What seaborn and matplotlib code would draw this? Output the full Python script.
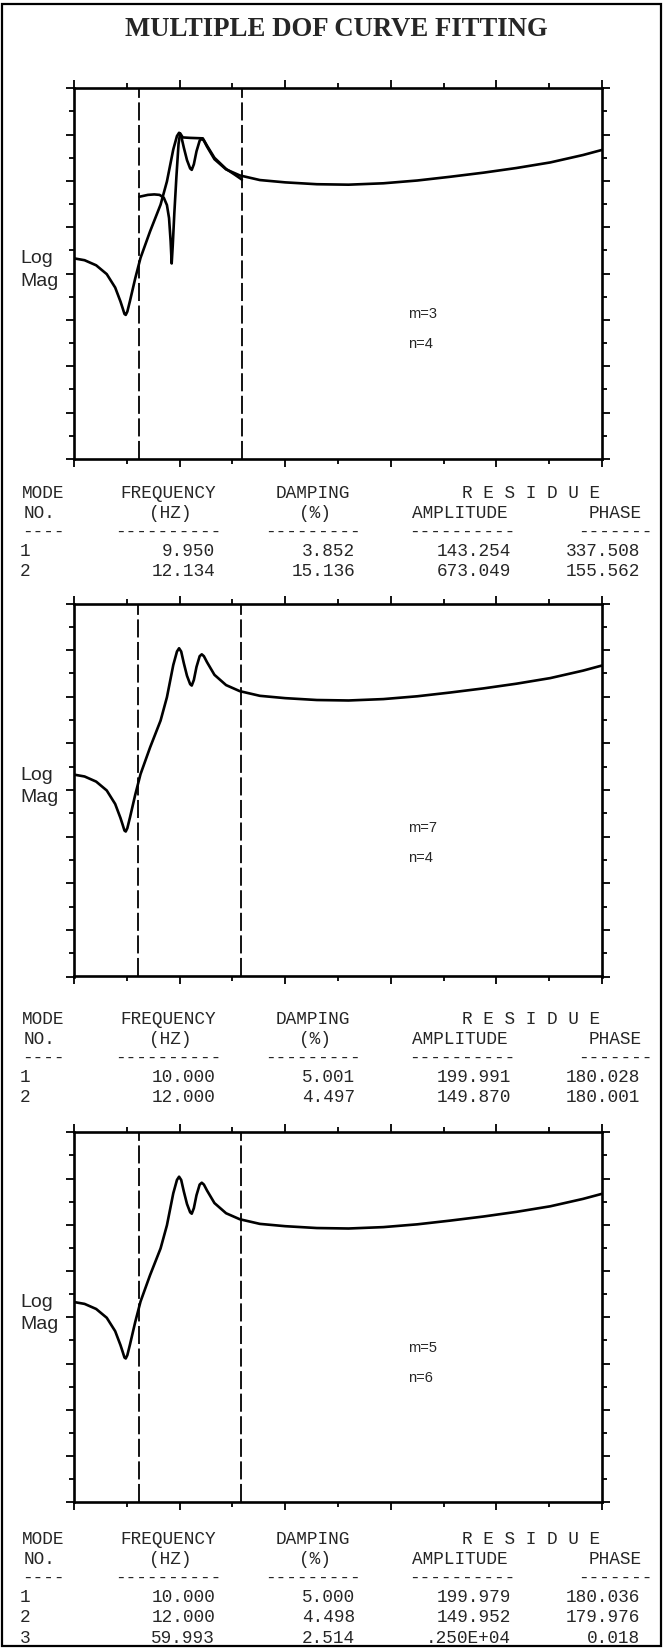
import numpy as np
import pandas as pd
import matplotlib
matplotlib.use("Agg")
import matplotlib.pyplot as plt
from matplotlib.patches import Rectangle
from matplotlib.ticker import MultipleLocator
import seaborn as sns

# ---------------------------------------------------------------
# data (frequency in Hz, log magnitude)
# ---------------------------------------------------------------
meas_hz = [0.0, 1.0, 2.1, 3.1, 3.9, 4.4, 4.6, 4.78, 4.9, 5.05, 5.3, 5.8, 6.3,
           7.2, 8.2, 8.8, 9.4, 9.75, 9.95, 10.15, 10.4, 10.7, 11.0, 11.15,
           11.35, 11.6, 11.9, 12.1, 12.3, 12.6, 13.3, 14.4, 15.7, 17.6, 20.0,
           23.0, 26.0, 29.3, 32.5, 35.6, 38.8, 41.9, 45.1, 48.2, 50.0]
meas_mag = [0.33, 0.29, 0.18, -0.01, -0.30, -0.60, -0.74, -0.87, -0.89, -0.82,
            -0.59, -0.10, 0.34, 0.91, 1.49, 1.99, 2.68, 2.97, 3.04, 2.97, 2.72,
            2.45, 2.27, 2.24, 2.36, 2.64, 2.87, 2.91, 2.87, 2.74, 2.47, 2.25,
            2.12, 2.02, 1.97, 1.93, 1.92, 1.95, 2.01, 2.09, 2.18, 2.28, 2.40,
            2.56, 2.67]

# first (poor) fit, m=3 n=4
fit1_hz = [6.2, 7.0, 7.6, 8.1, 8.5, 8.8, 9.0, 9.15, 9.25, 9.35, 9.5, 9.7, 9.9,
           10.05, 10.3, 11.0, 12.2, 12.6, 13.3, 14.4, 15.2, 15.9]
fit1_mag = [1.66, 1.70, 1.71, 1.70, 1.64, 1.48, 1.20, 0.70, 0.22, 0.60, 1.30,
            2.10, 2.80, 3.03, 2.94, 2.93, 2.92, 2.76, 2.50, 2.26, 2.14, 2.03]

band_lo = [6.2, 6.1, 6.15]
band_hi = [15.9, 15.8, 15.85]
m_vals = [3, 7, 5]
n_vals = [4, 4, 6]

modes = [["1", "2"], ["1", "2"], ["1", "2", "3"]]
freq = [["9.950", "12.134"], ["10.000", "12.000"], ["10.000", "12.000", "59.993"]]
damp = [["3.852", "15.136"], ["5.001", "4.497"], ["5.000", "4.498", "2.514"]]
amp = [["143.254", "673.049"], ["199.991", "149.870"],
       ["199.979", "149.952", ".250E+04"]]
phase = [["337.508", "155.562"], ["180.028", "180.001"],
         ["180.036", "179.976", "0.018"]]

W, H = 663, 1648
sns.set_theme(style="white")
plt.rcParams["font.family"] = ["Liberation Sans", "DejaVu Sans"]

fig = plt.figure(figsize=(W / 100, H / 100), dpi=100)
fig.patch.set_facecolor("white")

def fx(px):
    return px / W

def fy(py):
    return 1 - py / H

# outer frame
fig.patches.append(Rectangle((fx(2), fy(1646)), fx(659), 1642 / H,
                             transform=fig.transFigure, fill=False,
                             edgecolor="black", lw=1.6))

fig.text(fx(336), fy(29), "MULTIPLE DOF CURVE FITTING", ha="center", va="center",
         fontsize=19.3, fontweight="bold", family="Liberation Serif")

panel_top = [88.3, 603.5, 1132.3]
panel_bot = [459.0, 976.5, 1502.3]
table_y0 = [493, 1019, 1539]
AX_L, AX_R = 74, 602
mono = "Liberation Mono"

for i in range(3):
    ax = fig.add_axes([fx(AX_L), fy(panel_bot[i]), fx(AX_R - AX_L),
                       (panel_bot[i] - panel_top[i]) / H])
    df = pd.DataFrame({"hz": meas_hz, "mag": meas_mag})
    sns.lineplot(data=df, x="hz", y="mag", ax=ax, color="black", lw=1.9,
                 sort=False, estimator=None)
    if i == 0:
        dfit = pd.DataFrame({"hz": fit1_hz, "mag": fit1_mag})
        sns.lineplot(data=dfit, x="hz", y="mag", ax=ax, color="black", lw=1.9,
                     sort=False, estimator=None)
    for b in (band_lo[i], band_hi[i]):
        ax.axvline(b, color="black", lw=1.3, dashes=(10, 2.5))
    ax.set_xlim(0, 50)
    ax.set_ylim(-4, 4)
    ax.xaxis.set_major_locator(MultipleLocator(10))
    ax.xaxis.set_minor_locator(MultipleLocator(5))
    ax.yaxis.set_major_locator(MultipleLocator(1))
    ax.yaxis.set_minor_locator(MultipleLocator(0.5))
    ax.tick_params(which="both", direction="out", top=True, bottom=True,
                   left=True, right=True, labelbottom=False, labelleft=False,
                   color="black", width=1.3)
    ax.tick_params(which="major", length=6)
    ax.tick_params(which="minor", length=3.5)
    ax.set_xlabel("")
    ax.set_ylabel("")
    for s in ax.spines.values():
        s.set_color("black")
        s.set_linewidth(1.9)
    ax.text(-0.102, 0.51, "Log\nMag", transform=ax.transAxes, ha="left",
            va="center", fontsize=14, linespacing=1.4)
    my = [0.391, 0.398, 0.417][i]
    ax.text(0.633, my, f"m={m_vals[i]}", transform=ax.transAxes, ha="left",
            va="center", fontsize=10.5)
    ax.text(0.633, my - 0.08, f"n={n_vals[i]}", transform=ax.transAxes,
            ha="left", va="center", fontsize=10.5)

    # mode table below the panel
    y0 = table_y0[i]
    tk = dict(family=mono, fontsize=12.8, va="baseline", ha="center")
    b = 5
    fig.text(fx(43), fy(y0 + b), "MODE", **tk)
    fig.text(fx(40), fy(y0 + 20 + b), "NO.", **tk)
    fig.text(fx(43), fy(y0 + 39 + b), "----", **tk)
    fig.text(fx(168), fy(y0 + b), "FREQUENCY", **tk)
    fig.text(fx(170), fy(y0 + 20 + b), "(HZ)", **tk)
    fig.text(fx(168), fy(y0 + 39 + b), "----------", **tk)
    fig.text(fx(313), fy(y0 + b), "DAMPING", **tk)
    fig.text(fx(315), fy(y0 + 20 + b), "(%)", **tk)
    fig.text(fx(313), fy(y0 + 39 + b), "---------", **tk)
    fig.text(fx(531), fy(y0 + b), "R E S I D U E", **tk)
    fig.text(fx(460), fy(y0 + 20 + b), "AMPLITUDE", **tk)
    fig.text(fx(462), fy(y0 + 39 + b), "----------", **tk)
    fig.text(fx(615), fy(y0 + 20 + b), "PHASE", **tk)
    fig.text(fx(615), fy(y0 + 39 + b), "-------", **tk)
    tr = dict(tk, ha="right")
    for r in range(len(modes[i])):
        yy = fy(y0 + 58 + 20.5 * r + b)
        fig.text(fx(25), yy, modes[i][r], **tk)
        fig.text(fx(215), yy, freq[i][r], **tr)
        fig.text(fx(355), yy, damp[i][r], **tr)
        fig.text(fx(511), yy, amp[i][r], **tr)
        fig.text(fx(640), yy, phase[i][r], **tr)

fig.savefig("out.png", dpi=100, facecolor="white")
